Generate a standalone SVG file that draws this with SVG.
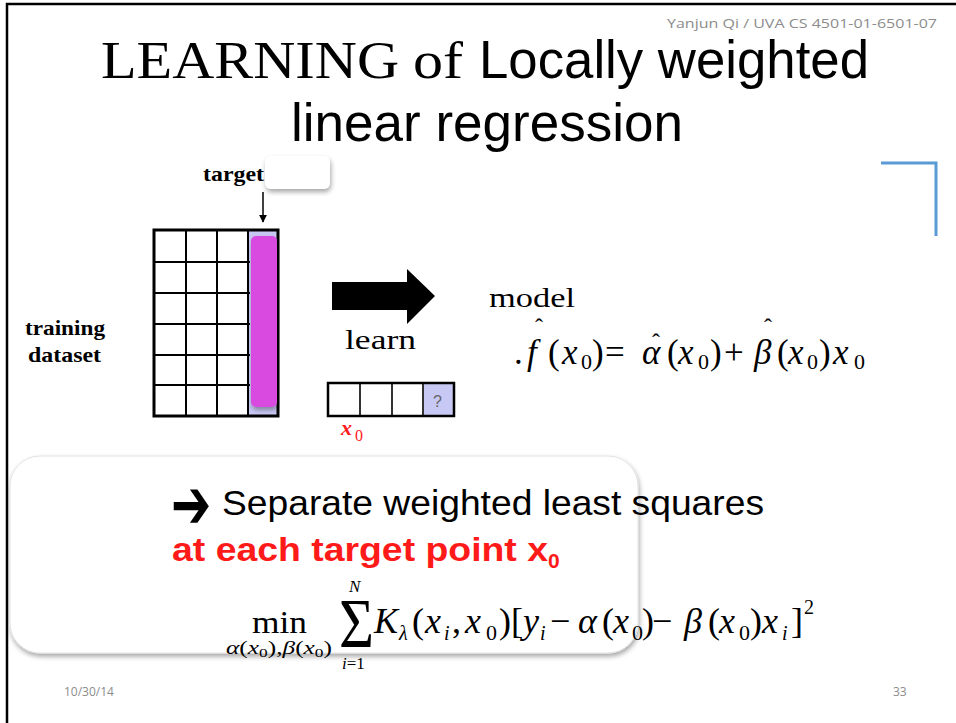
<svg xmlns="http://www.w3.org/2000/svg" width="956" height="723" viewBox="0 0 956 723">
<defs>
<style>
.serif{font-family:"Liberation Serif","Times New Roman",serif}
.sans{font-family:"Liberation Sans",Arial,sans-serif}
.small{font-family:"Open Sans","Liberation Sans",sans-serif;font-size:12px;fill:#8c8c8c}
.it{font-style:italic}
.grid{stroke:#000;stroke-width:2;fill:none}
</style>
<filter id="sh" x="-10%" y="-10%" width="120%" height="130%">
<feDropShadow dx="1" dy="3" stdDeviation="2.5" flood-color="#000" flood-opacity="0.35"/>
</filter>
<marker id="ah" viewBox="0 0 10 10" refX="9" refY="5" markerWidth="8" markerHeight="8" orient="auto" markerUnits="userSpaceOnUse">
<path d="M0,0 L10,5 L0,10 z" fill="#000"/>
</marker>
</defs>
<rect width="956" height="723" fill="#fff"/>
<!-- slide border -->
<path d="M7,723 L7,4 L956,4" fill="none" stroke="#000" stroke-width="2.5"/>

<g id="header">
<text class="small" x="937" y="28" text-anchor="end" textLength="270" lengthAdjust="spacingAndGlyphs">Yanjun Qi / UVA CS 4501-01-6501-07</text>
</g>

<g id="title">
<text x="101" y="78" font-size="53"><tspan class="serif" textLength="298" lengthAdjust="spacingAndGlyphs">LEARNING</tspan><tspan class="serif" x="413" textLength="50" lengthAdjust="spacingAndGlyphs">of</tspan><tspan class="sans" x="479" textLength="390" lengthAdjust="spacingAndGlyphs">Locally weighted</tspan></text>
<text class="sans" x="291" y="141" font-size="53" textLength="392" lengthAdjust="spacingAndGlyphs">linear regression</text>
</g>

<g id="corner">
<path d="M881,163 L936,163 L936,236" fill="none" stroke="#5b9bd5" stroke-width="3"/>
</g>

<g id="target-label">
<text class="serif" x="203" y="181" font-size="21" font-weight="bold" textLength="61" lengthAdjust="spacingAndGlyphs">target</text>
<rect x="265" y="156" width="65" height="33" rx="6" fill="#fff" filter="url(#sh)"/>
</g>

<g id="connectors">
<line x1="263" y1="192" x2="263" y2="222" stroke="#000" stroke-width="1.5" marker-end="url(#ah)"/>
<path d="M332,282 L407,282 L407,269 L435,296 L407,324 L407,310 L332,310 z" fill="#000"/>
</g>

<g id="training-dataset">
<text class="serif" x="25" y="335" font-size="21" font-weight="bold" textLength="80" lengthAdjust="spacingAndGlyphs">training</text>
<text class="serif" x="28" y="362" font-size="21" font-weight="bold" textLength="73" lengthAdjust="spacingAndGlyphs">dataset</text>
</g>

<g id="data-table">
<rect x="248" y="230" width="30" height="186" fill="#c8c8f4"/>
<path class="grid" d="M154,262 H250 M154,293 H250 M154,324 H250 M154,355 H250 M154,385 H250 M186,230 V416 M217,230 V416 M248,230 V416"/>
<rect x="154" y="230" width="124" height="186" fill="none" stroke="#000" stroke-width="3"/>
<rect x="251" y="236" width="26" height="171" rx="5" fill="#d94ce0" filter="url(#sh)"/>
</g>

<g id="learn">
<text class="serif" x="345" y="349" font-size="28" textLength="71" lengthAdjust="spacingAndGlyphs">learn</text>
</g>

<g id="query-row">
<rect x="423" y="383" width="31" height="33" fill="#c8c8f4"/>
<path d="M360,383 V416 M392,383 V416 M423,383 V416" stroke="#333" stroke-width="2"/>
<rect x="328" y="383" width="126" height="33" fill="none" stroke="#000" stroke-width="2.5"/>
<text class="sans" x="433" y="407" font-size="16" fill="#666">?</text>
<text class="serif" x="341" y="435" font-size="22" font-weight="bold" font-style="italic" fill="#ff1a1a">x</text>
<text class="serif" x="355" y="441" font-size="16" fill="#ff1a1a">0</text>
</g>

<g id="model">
<text class="serif" x="489" y="307" font-size="28" textLength="86" lengthAdjust="spacingAndGlyphs">model</text>
<text class="serif" y="364" font-size="35"><tspan x="514">.</tspan><tspan x="527" class="it">f</tspan><tspan x="548">(</tspan><tspan x="562" class="it">x</tspan><tspan x="581" dy="5" font-size="22">0</tspan><tspan x="592" dy="-5">)</tspan><tspan x="605">=</tspan><tspan x="642" class="it">α</tspan><tspan x="667">(</tspan><tspan x="678" class="it">x</tspan><tspan x="698" dy="5" font-size="22">0</tspan><tspan x="710" dy="-5">)</tspan><tspan x="724">+</tspan><tspan x="754" class="it">β</tspan><tspan x="777">(</tspan><tspan x="788" class="it">x</tspan><tspan x="807" dy="5" font-size="22">0</tspan><tspan x="819" dy="-5">)</tspan><tspan x="833" class="it">x</tspan><tspan x="854" dy="5" font-size="22">0</tspan></text>
<text class="serif" font-size="24"><tspan x="535" y="335">ˆ</tspan><tspan x="652" y="350">ˆ</tspan><tspan x="764" y="335">ˆ</tspan></text>
</g>

<g id="callout">
<rect x="10" y="456" width="628" height="197" rx="30" fill="#fff" stroke="#e2e2e2" stroke-width="1" filter="url(#sh)"/>
<text transform="translate(171,502) scale(1,1.45)" x="0" y="18" font-size="48" font-family="'DejaVu Sans',sans-serif">➔</text>
<text class="sans" x="222" y="515" font-size="35" textLength="542" lengthAdjust="spacingAndGlyphs">Separate weighted least squares</text>
<text class="sans" x="172" y="561" font-size="33" font-weight="bold" fill="#ff1a1a" textLength="376" lengthAdjust="spacingAndGlyphs">at each target point x</text>
<text class="sans" x="548" y="568" font-size="21" font-weight="bold" fill="#ff1a1a">0</text>
</g>

<g id="objective">
<text class="serif" x="252" y="633" font-size="32" textLength="55" lengthAdjust="spacingAndGlyphs">min</text>
<text class="serif" x="226" y="654" font-size="19" textLength="106" lengthAdjust="spacingAndGlyphs"><tspan class="it">α</tspan><tspan>(</tspan><tspan class="it">x</tspan><tspan dy="3" font-size="13">0</tspan><tspan dy="-3">),</tspan><tspan class="it">β</tspan><tspan>(</tspan><tspan class="it">x</tspan><tspan dy="3" font-size="13">0</tspan><tspan dy="-3">)</tspan></text>
<text class="serif it" x="349" y="592" font-size="17">N</text>
<text class="serif" x="339" y="647" font-size="70" textLength="35" lengthAdjust="spacingAndGlyphs">Σ</text>
<text class="serif" y="669" font-size="17"><tspan x="342" class="it">i</tspan><tspan>=1</tspan></text>
<text class="serif" y="633" font-size="36"><tspan x="374" class="it">K</tspan><tspan x="399" dy="7" font-size="20" class="it">λ</tspan><tspan x="412" dy="-7">(</tspan><tspan x="425" class="it">x</tspan><tspan x="444" dy="7" font-size="20" class="it">i</tspan><tspan x="452" dy="-7">,</tspan><tspan x="465" class="it">x</tspan><tspan x="486" dy="7" font-size="22">0</tspan><tspan x="499" dy="-7">)[</tspan><tspan x="523" class="it">y</tspan><tspan x="540" dy="7" font-size="20" class="it">i</tspan><tspan x="550" dy="-7">−</tspan><tspan x="578" class="it">α</tspan><tspan x="602">(</tspan><tspan x="613" class="it">x</tspan><tspan x="632" dy="7" font-size="22">0</tspan><tspan x="642" dy="-7">)</tspan><tspan x="652">−</tspan><tspan x="684" class="it">β</tspan><tspan x="708">(</tspan><tspan x="719" class="it">x</tspan><tspan x="739" dy="7" font-size="22">0</tspan><tspan x="750" dy="-7">)</tspan><tspan x="762" class="it">x</tspan><tspan x="782" dy="7" font-size="20" class="it">i</tspan><tspan x="791" dy="-7">]</tspan></text>
<text class="serif" x="804" y="614" font-size="20">2</text>
</g>

<g id="footer">
<text class="small" x="64" y="696">10/30/14</text>
<text class="small" x="893" y="696">33</text>
</g>
</svg>
